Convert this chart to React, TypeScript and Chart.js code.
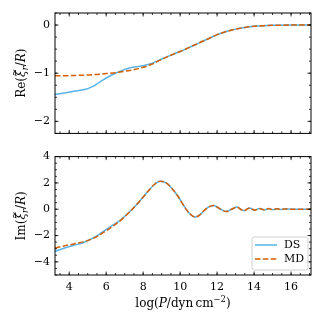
import React, { useEffect, useRef } from "react";
import { Chart, registerables } from "chart.js";
Chart.register(...registerables);

// ---- data ----
const reX = [3.23, 3.75, 4.25, 4.75, 5.0, 5.25, 5.5, 5.75, 6.0, 6.5, 6.75, 7.0, 7.25, 7.5, 7.75, 8.0, 8.25, 8.5, 9.0, 9.5, 10.0, 10.5, 11.0, 11.5, 12.0, 12.5, 13.0, 13.5, 14.0, 14.5, 15.0, 16.0, 17.08];
const reDS = [-1.445, -1.41, -1.375, -1.345, -1.32, -1.28, -1.22, -1.16, -1.1, -1.0, -0.96, -0.92, -0.89, -0.87, -0.86, -0.845, -0.82, -0.79, -0.705, -0.625, -0.55, -0.465, -0.375, -0.29, -0.2, -0.135, -0.085, -0.05, -0.027, -0.013, -0.006, -0.001, 0];
const reMD = [-1.054, -1.052, -1.048, -1.042, -1.038, -1.032, -1.025, -1.017, -1.008, -0.99, -0.975, -0.96, -0.945, -0.925, -0.905, -0.878, -0.845, -0.81, -0.712, -0.627, -0.55, -0.465, -0.375, -0.29, -0.2, -0.135, -0.085, -0.05, -0.027, -0.013, -0.006, -0.001, 0];

const imX = [3.23, 3.75, 4.25, 4.75, 5.25, 5.75, 6.25, 6.75, 7.25, 7.75, 8.25, 8.6, 8.93, 9.25, 9.6, 9.9, 10.3, 10.55, 10.82, 11.05, 11.3, 11.55, 11.8, 12.0, 12.19, 12.5, 12.78, 13.09, 13.27, 13.45, 13.61, 13.77, 13.9, 14.04, 14.17, 14.29, 14.43, 14.56, 14.68, 14.79, 14.9, 15.02, 15.13, 15.24, 15.35, 15.45, 15.55, 15.65, 16.0, 17.08];
const imDS = [-3.2, -2.95, -2.74, -2.55, -2.22, -1.78, -1.3, -0.85, -0.21, 0.52, 1.34, 1.88, 2.13, 2.0, 1.5, 0.95, 0.05, -0.38, -0.6, -0.45, -0.1, 0.18, 0.29, 0.17, 0.0, -0.18, 0.0, 0.16, 0.0, -0.11, 0.0, 0.1, 0.0, -0.07, 0.0, 0.06, 0.0, -0.05, 0.0, 0.05, 0.0, -0.04, 0.0, 0.03, 0.0, -0.025, 0.0, 0.02, 0.0, 0.0];
const imMD = [-2.95, -2.78, -2.64, -2.48, -2.25, -1.86, -1.4, -0.88, -0.23, 0.52, 1.34, 1.88, 2.13, 2.0, 1.5, 0.95, 0.05, -0.38, -0.6, -0.45, -0.1, 0.18, 0.29, 0.17, 0.0, -0.18, 0.0, 0.16, 0.0, -0.11, 0.0, 0.1, 0.0, -0.07, 0.0, 0.06, 0.0, -0.05, 0.0, 0.05, 0.0, -0.04, 0.0, 0.03, 0.0, -0.025, 0.0, 0.02, 0.0, 0.0];

const seriesLabels = ["DS", "MD"];
const xRange = [3.23, 17.08];
const reRange = [-2.25, 0.25];
const imRange = [-5, 4];
const xTicks = [4, 6, 8, 10, 12, 14, 16];
const reTicks = [-2, -1, 0];
const imTicks = [-4, -2, 0, 2, 4];
const xMinorStep = 0.5;
const reMinorStep = 0.25;
const imMinorStep = 0.5;

// ---- styles ----
const BLUE = "#56B4E9";
const ORANGE = "#D55E00";
const FAMILY = "'DejaVu Serif', serif";
const TICK_SIZE = 11;
const TITLE_SIZE = 12;

type Seg = { t: string; it?: boolean; sub?: boolean; sup?: boolean; tilde?: boolean };

const reTitle: Seg[] = [{ t: "Re(" }, { t: "\u03BE", it: true, tilde: true }, { t: "r", it: true, sub: true }, { t: "/" }, { t: "R", it: true }, { t: ")" }];
const imTitle: Seg[] = [{ t: "Im(" }, { t: "\u03BE", it: true, tilde: true }, { t: "r", it: true, sub: true }, { t: "/" }, { t: "R", it: true }, { t: ")" }];
const xTitle: Seg[] = [{ t: "log(" }, { t: "P", it: true }, { t: "/" }, { t: "dyn\u2009cm" }, { t: "\u22122", sup: true }, { t: ")" }];

function segFont(s: Seg, size: number) {
  const sz = s.sub || s.sup ? size * 0.7 : size;
  return `${s.it ? "italic " : ""}${sz}px ${FAMILY}`;
}

function drawRich(ctx: CanvasRenderingContext2D, segs: Seg[], cx: number, cy: number, size: number, vertical: boolean) {
  ctx.save();
  ctx.translate(cx, cy);
  if (vertical) ctx.rotate(-Math.PI / 2);
  let total = 0;
  const widths = segs.map((s) => {
    ctx.font = segFont(s, size);
    const w = ctx.measureText(s.t).width;
    total += w;
    return w;
  });
  let x = -total / 2;
  ctx.fillStyle = "#000";
  ctx.textBaseline = "middle";
  segs.forEach((s, i) => {
    ctx.font = segFont(s, size);
    const dy = s.sub ? size * 0.3 : s.sup ? -size * 0.38 : 0;
    ctx.textAlign = "left";
    ctx.fillText(s.t, x, dy);
    if (s.tilde) {
      ctx.font = `${size * 0.75}px ${FAMILY}`;
      ctx.textAlign = "center";
      ctx.fillText("~", x + widths[i] / 2 + 1.2, dy - size * 0.62);
    }
    x += widths[i];
  });
  ctx.restore();
}

const fmt = (v: number) => (v < 0 ? "\u2212" + Math.abs(v) : String(v));

function framePlugin(yMajor: number[], yMinorStep: number, yTitle: Seg[], withXTitle: boolean, withLegend: boolean) {
  return {
    id: "frameTicks",
    afterDatasetsDraw(chart: any) {
      const { ctx, chartArea: a, scales } = chart;
      const xs = scales.x;
      const ys = scales.y;
      ctx.save();
      ctx.strokeStyle = "#000";
      ctx.lineWidth = 0.8;
      const seg = (x1: number, y1: number, x2: number, y2: number) => {
        ctx.beginPath();
        ctx.moveTo(x1, y1);
        ctx.lineTo(x2, y2);
        ctx.stroke();
      };
      const MAJ = 3.5;
      const MIN = 2;
      const xMin = xs.min, xMax = xs.max;
      for (let k = Math.ceil(xMin / xMinorStep); k * xMinorStep <= xMax; k++) {
        const px = xs.getPixelForValue(k * xMinorStep);
        seg(px, a.bottom, px, a.bottom - MIN);
        seg(px, a.top, px, a.top + MIN);
      }
      xTicks.forEach((v) => {
        const px = xs.getPixelForValue(v);
        seg(px, a.bottom, px, a.bottom - MAJ);
        seg(px, a.top, px, a.top + MAJ);
      });
      const yMin = ys.min, yMax = ys.max;
      for (let k = Math.ceil(yMin / yMinorStep - 1e-9); k * yMinorStep <= yMax + 1e-9; k++) {
        const py = ys.getPixelForValue(k * yMinorStep);
        seg(a.left, py, a.left + MIN, py);
        seg(a.right, py, a.right - MIN, py);
      }
      yMajor.forEach((v) => {
        const py = ys.getPixelForValue(v);
        seg(a.left, py, a.left + MAJ, py);
        seg(a.right, py, a.right - MAJ, py);
      });
      ctx.lineWidth = 1;
      ctx.strokeRect(a.left, a.top, a.right - a.left, a.bottom - a.top);

      // axis titles
      drawRich(ctx, yTitle, 22, (a.top + a.bottom) / 2, TITLE_SIZE, true);
      if (withXTitle) drawRich(ctx, xTitle, (a.left + a.right) / 2, a.bottom + 29, TITLE_SIZE, false);

      // legend
      if (withLegend) {
        const w = 56, h = 33;
        const bx = a.right - 3 - w;
        const by = a.bottom - 5 - h;
        ctx.beginPath();
        const r = 2.5;
        ctx.moveTo(bx + r, by);
        ctx.arcTo(bx + w, by, bx + w, by + h, r);
        ctx.arcTo(bx + w, by + h, bx, by + h, r);
        ctx.arcTo(bx, by + h, bx, by, r);
        ctx.arcTo(bx, by, bx + w, by, r);
        ctx.closePath();
        ctx.fillStyle = "rgba(255,255,255,0.85)";
        ctx.fill();
        ctx.strokeStyle = "#d0d0d0";
        ctx.lineWidth = 1;
        ctx.stroke();
        const rows = [by + 8, by + 22];
        const colors = [BLUE, ORANGE];
        rows.forEach((ry, i) => {
          ctx.strokeStyle = colors[i];
          ctx.lineWidth = 1.5;
          ctx.setLineDash(i === 1 ? [5.5, 2.4] : []);
          seg(bx + 3, ry, bx + 25, ry);
          ctx.setLineDash([]);
          ctx.fillStyle = "#000";
          ctx.font = `${TICK_SIZE}px ${FAMILY}`;
          ctx.textBaseline = "middle";
          ctx.textAlign = "left";
          ctx.fillText(chart.data.datasets.find((d: any) => d.label === seriesLabels[i]).label, bx + 32, ry);
        });
      }
      ctx.restore();
    },
  };
}

function datasets(xv: number[], ds: number[], md: number[]) {
  return [
    {
      label: seriesLabels[0],
      data: xv.map((x, i) => ({ x, y: ds[i] })),
      borderColor: BLUE,
      borderWidth: 1.5,
      pointRadius: 0,
      fill: false,
      cubicInterpolationMode: "monotone" as const,
      order: 1,
    },
    {
      label: seriesLabels[1],
      data: xv.map((x, i) => ({ x, y: md[i] })),
      borderColor: ORANGE,
      borderWidth: 1.5,
      borderDash: [5.5, 2.4],
      pointRadius: 0,
      fill: false,
      cubicInterpolationMode: "monotone" as const,
      order: 0,
    },
  ];
}

const tickFont = { family: FAMILY, size: TICK_SIZE };

export default function App() {
  const topRef = useRef<HTMLCanvasElement>(null);
  const botRef = useRef<HTMLCanvasElement>(null);

  useEffect(() => {
    const c1 = new Chart(topRef.current as HTMLCanvasElement, {
      type: "line",
      data: { datasets: datasets(reX, reDS, reMD) as any },
      options: {
        responsive: false,
        animation: false,
        layout: { padding: { left: 0, top: 13, right: 14, bottom: 10 } },
        plugins: { legend: { display: false }, tooltip: { enabled: false } },
        scales: {
          x: { type: "linear", min: xRange[0], max: xRange[1], display: false },
          y: {
            type: "linear",
            min: reRange[0],
            max: reRange[1],
            afterBuildTicks: (s: any) => {
              s.ticks = reTicks.map((v) => ({ value: v }));
            },
            afterFit: (s: any) => {
              s.width = 55;
            },
            grid: { display: false, drawTicks: false },
            border: { display: false },
            ticks: { color: "#000", font: tickFont, padding: 5, callback: (v: any) => fmt(Number(v)) },
          },
        },
      },
      plugins: [framePlugin(reTicks, reMinorStep, reTitle, false, false)],
    });
    const c2 = new Chart(botRef.current as HTMLCanvasElement, {
      type: "line",
      data: { datasets: datasets(imX, imDS, imMD) as any },
      options: {
        responsive: false,
        animation: false,
        layout: { padding: { left: 0, top: 8, right: 14, bottom: 0 } },
        plugins: { legend: { display: false }, tooltip: { enabled: false } },
        scales: {
          x: {
            type: "linear",
            min: xRange[0],
            max: xRange[1],
            afterBuildTicks: (s: any) => {
              s.ticks = xTicks.map((v) => ({ value: v }));
            },
            afterFit: (s: any) => {
              s.height = 50;
            },
            grid: { display: false, drawTicks: false },
            border: { display: false },
            ticks: { color: "#000", font: tickFont, padding: 6, maxRotation: 0, callback: (v: any) => fmt(Number(v)) },
          },
          y: {
            type: "linear",
            min: imRange[0],
            max: imRange[1],
            afterBuildTicks: (s: any) => {
              s.ticks = imTicks.map((v) => ({ value: v }));
            },
            afterFit: (s: any) => {
              s.width = 55;
            },
            grid: { display: false, drawTicks: false },
            border: { display: false },
            ticks: { color: "#000", font: tickFont, padding: 5, callback: (v: any) => fmt(Number(v)) },
          },
        },
      },
      plugins: [framePlugin(imTicks, imMinorStep, imTitle, true, true)],
    });
    return () => {
      c1.destroy();
      c2.destroy();
    };
  }, []);

  return (
    <div style={{ position: "fixed", left: 0, top: 0, width: 325, height: 325, background: "#fff" }}>
      <canvas ref={topRef} width={325} height={145} style={{ position: "absolute", left: 0, top: 0 }} />
      <canvas ref={botRef} width={325} height={180} style={{ position: "absolute", left: 0, top: 145 }} />
    </div>
  );
}
